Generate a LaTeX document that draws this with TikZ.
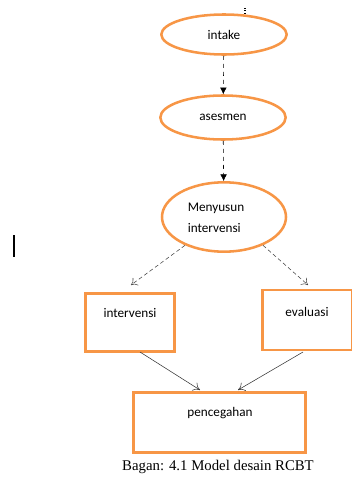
\documentclass[tikz,border=0pt]{standalone}
\usepackage{fontspec}
\setmainfont{Carlito}
\newfontfamily\capfont{Liberation Serif}
\usetikzlibrary{positioning,
        shapes,
        arrows.meta}
\definecolor{rcbtorange}{HTML}{F79646}

\begin{document}
\begin{tikzpicture}[x=0.75pt,y=-0.75pt,
        font=\fontsize{9.9}{15.5}\selectfont,
        oval/.style={ellipse,draw=rcbtorange,line width=1.9pt,inner sep=0pt},
        box/.style={rectangle,draw=rcbtorange,line width=2.2pt,inner sep=0pt},
        down/.style={dashed,-{Latex[length=5pt,width=5pt]}},
        side/.style={densely dashed,black!75,-{To[length=4.5pt,width=7pt]}},
        merge/.style={black!80,-{To[length=5pt,width=7pt]}}]
        \useasboundingbox (0,0) rectangle (351,482);

        \node [oval,minimum width=94pt,minimum height=30pt] (intake) at (224,34.5) {intake};
        \node [oval,minimum width=94pt,minimum height=33pt] (asesmen) at (223,117.5) {asesmen};
        \node [oval,minimum width=93pt,minimum height=52pt] (susun) at (224,217) {};
        \node [box,minimum width=67pt,minimum height=44pt] (interv) at (130,322.5) {};
        \node [box,minimum width=67pt,minimum height=45pt] (eval) at (307.5,320) {};
        \node [box,minimum width=129pt,minimum height=45pt] (cegah) at (219.5,422.5) {};

        \node [align=left] (tsusun) at (216,218) {Menyusun\\intervensi};
        \node (tinterv) at (130,313) {intervensi};
        \node (teval) at (307,312) {evaluasi};
        \node (tcegah) at (220,413) {pencegahan};
        \node [font=\capfont\fontsize{11.1}{13}\selectfont] (caption) at (218,467) {Bagan: 4.1 Model desain RCBT};

        \coordinate (dots) at (245,8);
        \draw [densely dotted,line width=0.8pt] (dots) -- ++(0,6);
        \coordinate (bar) at (14,235);
        \draw [line width=1.5pt] (bar) -- ++(0,22);

        % free ends of the connectors
        \coordinate (tointerv) at (131,285);
        \coordinate (toeval) at (308,285);
        \coordinate (frominterv) at (140,352);
        \coordinate (fromeval) at (303,352);
        \coordinate (cegahl) at (200,390);
        \coordinate (cegahr) at (238,390);

        \draw [down] (intake) -- (asesmen);
        \draw [down] (asesmen) -- (susun);
        \draw [side] (susun.216) -- (tointerv);
        \draw [side] (susun.324) -- (toeval);
        \draw [merge] (frominterv) -- (cegahl);
        \draw [merge] (fromeval) -- (cegahr);
\end{tikzpicture}
\end{document}
